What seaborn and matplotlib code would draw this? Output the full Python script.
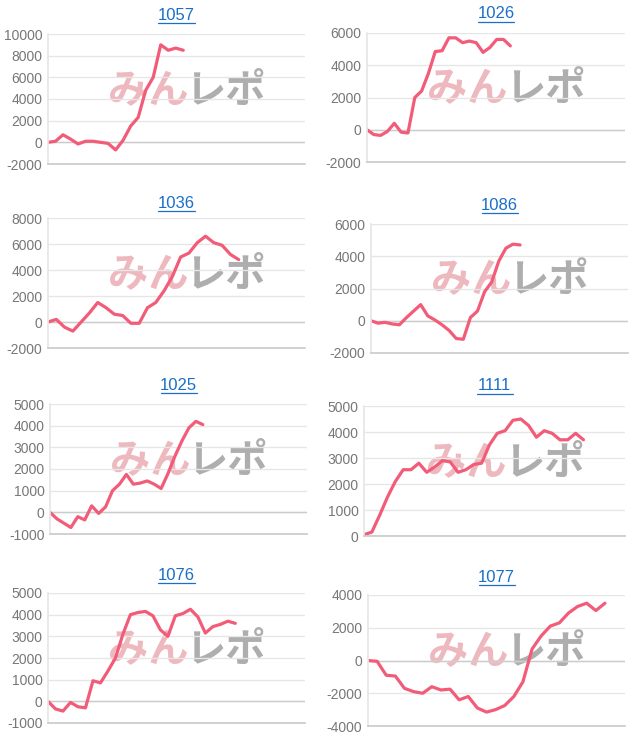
import numpy as np
import pandas as pd
import seaborn as sns
import matplotlib.pyplot as plt

# Values (one point per game step)
names = ["1057", "1026", "1036", "1086", "1025", "1111", "1076", "1077"]

v1057 = [0, 100, 700, 300, -150, 100, 100, 0, -100, -700, 200, 1500, 2300,
         4800, 6000, 9000, 8500, 8700, 8500]
v1026 = [0, -300, -350, -100, 400, -150, -200, 2000, 2400, 3500, 4850, 4900,
         5700, 5700, 5400, 5500, 5400, 4800, 5100, 5600, 5600, 5200]
v1036 = [0, 200, -400, -700, 0, 700, 1500, 1100, 600, 500, -100, -100, 1100,
         1500, 2400, 3500, 5000, 5300, 6100, 6600, 6100, 5900, 5200, 4800]
v1086 = [0, -150, -100, -200, -250, 200, 600, 1000, 300, 50, -250, -600,
         -1100, -1150, 200, 600, 1800, 2400, 3700, 4500, 4750, 4700]
v1025 = [0, -300, -500, -700, -200, -350, 300, -50, 250, 1000, 1300, 1750,
         1300, 1350, 1450, 1300, 1100, 1800, 2600, 3300, 3900, 4200, 4050]
v1111 = [50, 150, 800, 1500, 2100, 2550, 2550, 2800, 2450, 2650, 2900, 2850,
         2450, 2550, 2750, 2800, 3500, 3950, 4050, 4450, 4500, 4250, 3800,
         4050, 3950, 3700, 3700, 3950, 3700]
v1076 = [0, -350, -450, -50, -250, -300, 950, 850, 1400, 2000, 3100, 4000,
         4100, 4150, 3950, 3300, 3000, 3950, 4050, 4250, 3900, 3150, 3450,
         3550, 3700, 3600]
v1077 = [0, -50, -900, -950, -1700, -1900, -2000, -1600, -1800, -1750, -2400,
         -2200, -2900, -3150, -3000, -2750, -2200, -1300, 700, 1500, 2100,
         2300, 2900, 3300, 3500, 3050, 3500]

series = [v1057, v1026, v1036, v1086, v1025, v1111, v1076, v1077]
ylims = [(-2000, 10000), (-2000, 6000), (-2000, 8000), (-2000, 6000),
         (-1000, 5000), (0, 5000), (-1000, 5000), (-4000, 4000)]
ysteps = [2000, 2000, 2000, 2000, 1000, 1000, 1000, 2000]
xmaxs = [34.2, 37.8, 31, 36.2, 37, 33.3, 34.3, 28.2]

LINE = "#f25c78"
TICK = "#777777"
GRID = "#e6e6e6"
TITLE = "#1a6fc9"

sns.set_theme(style="white")
plt.rcParams["font.family"] = ["Liberation Sans", "DejaVu Sans"]
plt.rcParams["axes.unicode_minus"] = False

W, H = 640, 745
fig = plt.figure(figsize=(W / 100, H / 100), dpi=100)

# axes boxes in pixels: (left, top, right, bottom)
boxes = [
    (48, 34, 305, 164), (367, 33, 625, 162),
    (48, 218, 305, 348), (371, 224, 628, 353),
    (50, 404, 307, 534), (364, 406, 625, 536),
    (48, 593, 305, 723), (368, 595, 625, 726),
]
title_y = [15, 14, 203, 205, 385, 386, 575, 577]

for i, name in enumerate(names):
    l, t, r, b = boxes[i]
    ax = fig.add_axes([l / W, 1 - b / H, (r - l) / W, (b - t) / H])
    df = pd.DataFrame({"x": np.arange(len(series[i])), "y": series[i]})
    sns.lineplot(data=df, x="x", y="y", ax=ax, color=LINE, linewidth=2.3)
    lo, hi = ylims[i]
    ax.set_ylim(lo, hi)
    ax.set_xlim(0, xmaxs[i])
    ax.set_yticks(np.arange(lo, hi + 1, ysteps[i]))
    ax.set_xticks([])
    ax.set_xlabel("")
    ax.set_ylabel("")
    ax.tick_params(axis="y", labelsize=10, colors=TICK, length=0, pad=4)
    ax.grid(True, axis="y", color=GRID, linewidth=1)
    ax.axhline(0, color="#cccccc", linewidth=1, zorder=1)
    ax.set_axisbelow(True)
    for s in ("top", "right"):
        ax.spines[s].set_visible(False)
    ax.spines["left"].set_color(GRID)
    ax.spines["bottom"].set_color("#cccccc")
    # watermark
    ax.text(0.39, 0.56, "みん", transform=ax.transAxes, fontsize=29,
            fontweight="bold", style="italic", color="#e8a0a8", alpha=0.75,
            ha="center", va="center", family=["Noto Sans CJK JP"], zorder=0)
    ax.text(0.69, 0.56, "レポ", transform=ax.transAxes, fontsize=29,
            fontweight="bold", style="italic", color="#a0a0a0", alpha=0.85,
            ha="center", va="center", family=["Noto Sans CJK JP"], zorder=0)
    cx = (l + r) / 2 / W
    fig.text(cx, 1 - title_y[i] / H, name, ha="center", va="center",
             fontsize=12, color=TITLE)
    # underline
    fig.add_artist(plt.Line2D([cx - 18 / W, cx + 18 / W],
                              [1 - (title_y[i] + 8) / H] * 2,
                              color=TITLE, linewidth=0.9))

fig.savefig("out.png", dpi=100, facecolor="white")
